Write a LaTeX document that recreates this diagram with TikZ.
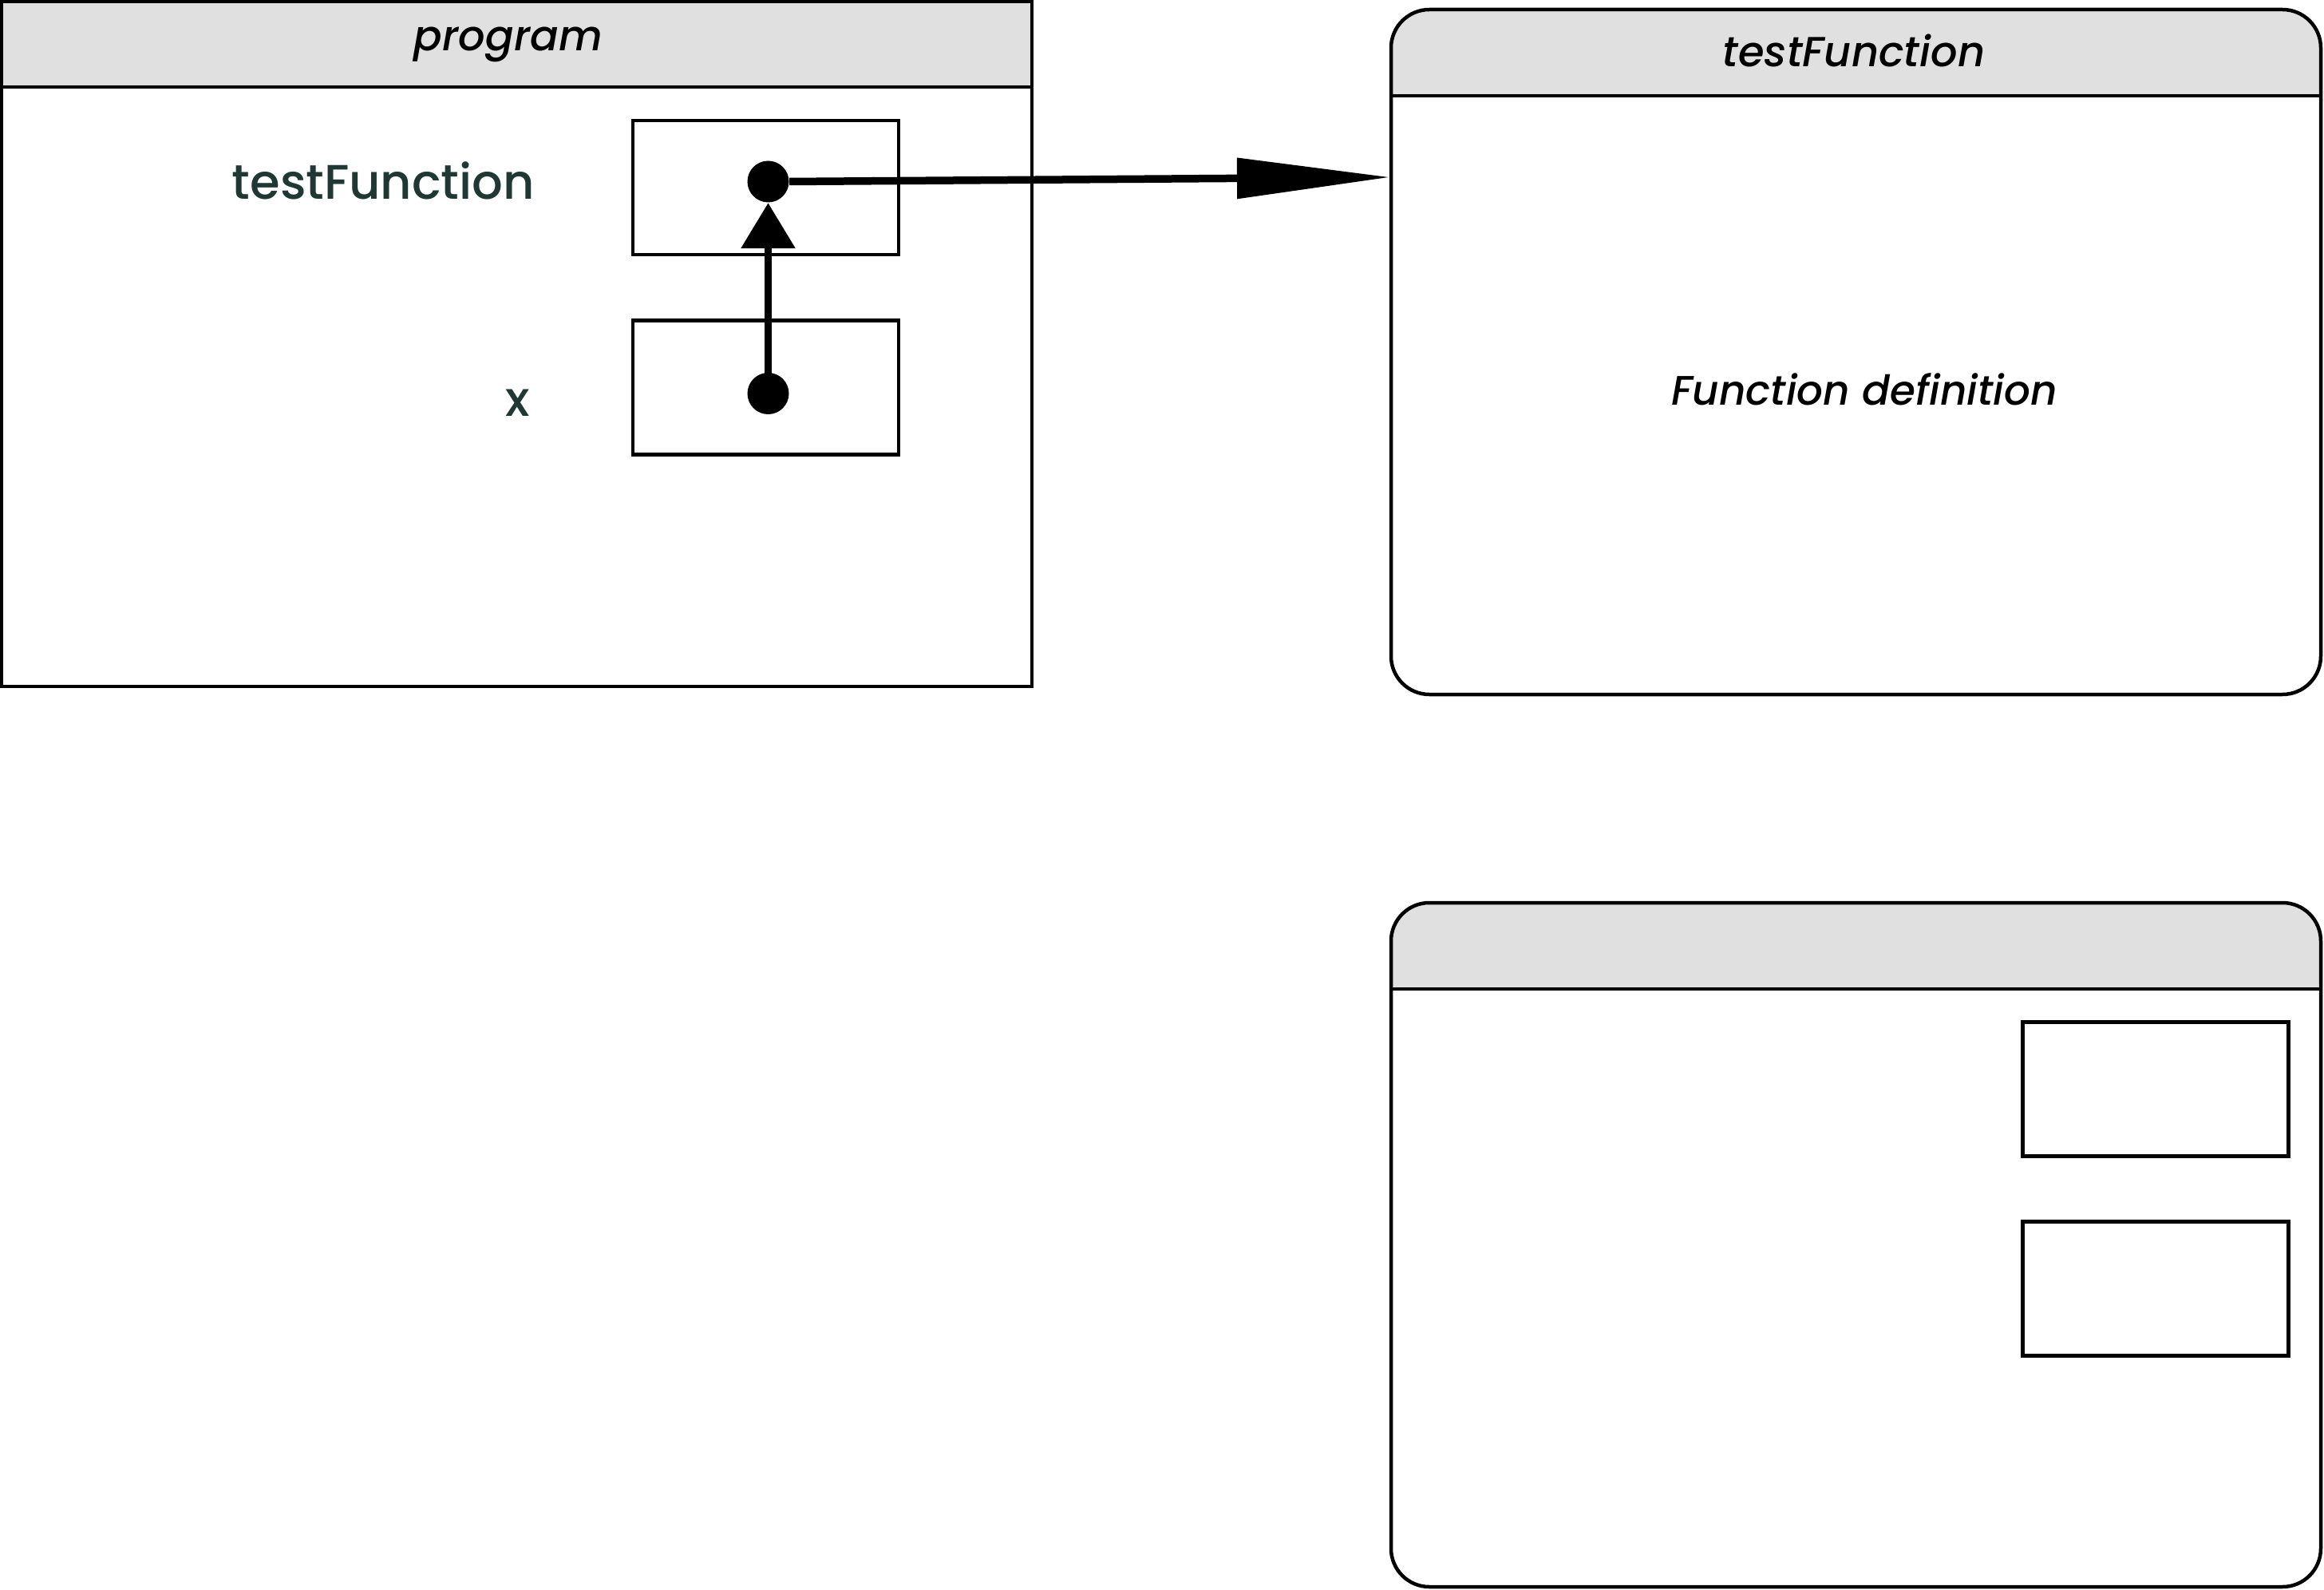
\documentclass[tikz,border=0pt]{standalone}
\usepackage{fontspec}
\setmainfont{Poppins Medium}[ItalicFont={Poppins Medium Italic}]
\usepackage{tikz}
\usetikzlibrary{arrows.meta}

\definecolor{hdrgray}{RGB}{224,224,224}
\definecolor{labelink}{RGB}{31,56,51}

\begin{document}
\begin{tikzpicture}
	\tikzstyle{Frame}	= [draw, line width=0.045cm]
	\tikzstyle{Header}	= [fill=hdrgray]
	\tikzstyle{Slot}	= [rectangle, draw, line width=0.045cm, minimum width=3.33cm, minimum height=1.68cm, inner sep=0pt]
	\tikzstyle{Dot}		= [circle, fill=black, minimum size=0.52cm, inner sep=0pt]
	\tikzstyle{Title}	= [font=\fontsize{15}{18}\selectfont\itshape, inner sep=0pt, anchor=base]
	\tikzstyle{Name}	= [font=\fontsize{17.3}{20}\selectfont, text=labelink, inner sep=0pt, anchor=base east]
	\tikzstyle{Ref}		= [line width=0.095cm]

	\useasboundingbox (0,0) rectangle (29.12,-19.92);

	% program frame
	\fill [Header] (0.02,-0.02) rectangle (12.93,-1.09);
	\draw [Frame] (0.02,-0.02) rectangle (12.93,-8.60);
	\draw [Frame] (0.02,-1.09) -- (12.93,-1.09);

	% testFunction frame
	\fill [Header, rounded corners=0.48cm] (17.43,-0.12) rectangle (29.08,-1.20);
	\fill [Header] (17.43,-0.70) rectangle (29.08,-1.20);
	\draw [Frame, rounded corners=0.48cm] (17.43,-0.12) rectangle (29.08,-8.70);
	\draw [Frame] (17.43,-1.20) -- (29.08,-1.20);

	% empty frame
	\fill [Header, rounded corners=0.48cm] (17.43,-11.31) rectangle (29.08,-12.39);
	\fill [Header] (17.43,-11.89) rectangle (29.08,-12.39);
	\draw [Frame, rounded corners=0.48cm] (17.43,-11.31) rectangle (29.08,-19.88);
	\draw [Frame] (17.43,-12.39) -- (29.08,-12.39);

	\node (progTitle) at (6.37,-0.636) [Title] {program};
	\node (tfTitle) at (23.23,-0.833) [Title] {testFunction};
	\node (tfBody) at (23.36,-5.07) [Title, font=\fontsize{14.7}{18}\selectfont\itshape] {Function definition};

	\node (nameTF) at (6.705,-2.49) [Name] {testFunction};
	\node (nameX) at (6.65,-5.21) [Name] {x};

	\node (slotTF) at (9.595,-2.35) [Slot] {};
	\node (slotX) at (9.595,-4.855) [Slot] {};
	\node (slotA) at (27.01,-13.645) [Slot] {};
	\node (slotB) at (27.01,-16.145) [Slot] {};

	\node (dotTF) at (9.625,-2.275) [Dot] {};
	\node (dotX) at (9.625,-4.93) [Dot] {};
	\coordinate (tfEntry) at (17.42,-2.22);

	\draw [-{Triangle[length=0.57cm, width=0.66cm]}] (dotX.center) to (dotTF.south) [Ref];
	\draw [-{Triangle[length=1.92cm, width=0.49cm]}] (dotTF.east) to (tfEntry) [Ref];
\end{tikzpicture}
\end{document}
